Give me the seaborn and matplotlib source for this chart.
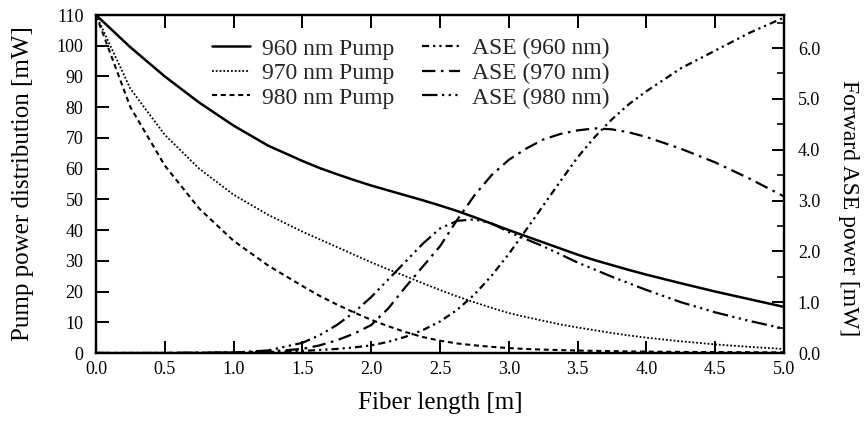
import matplotlib
matplotlib.use("Agg")
import matplotlib.pyplot as plt
import seaborn as sns
import numpy as np

# ---- data ----
fiber_length = [0.0, 0.25, 0.5, 0.75, 1.0, 1.25, 1.5, 1.625, 1.75, 1.875, 2.0,
                2.125, 2.25, 2.375, 2.5, 2.625, 2.75, 2.875, 3.0, 3.125, 3.25,
                3.375, 3.5, 3.625, 3.75, 3.875, 4.0, 4.25, 4.5, 4.75, 5.0]

pump_960 = [110, 99.5, 90, 81.5, 74, 67.5, 62.5, 60.2, 58.2, 56.3, 54.5,
            52.9, 51.3, 49.7, 48, 46.2, 44.2, 42.1, 40, 38, 36,
            34, 32, 30.2, 28.6, 27, 25.5, 22.7, 20, 17.5, 15]
pump_970 = [110, 86, 71, 60, 51.5, 45, 39.5, 37, 34.5, 32, 29.5,
            27.2, 25, 22.7, 20.5, 18.4, 16.5, 14.7, 13, 11.7, 10.5,
            9.3, 8.3, 7.4, 6.5, 5.7, 5, 3.8, 2.8, 2.0, 1.3]
pump_980 = [110, 80, 61, 47, 36.5, 28.5, 21.8, 18.6, 15.8, 13.2, 10.8,
            8.7, 6.8, 5.2, 4, 3.1, 2.5, 2.0, 1.6, 1.3, 1.1,
            0.95, 0.8, 0.7, 0.6, 0.52, 0.45, 0.35, 0.3, 0.25, 0.2]

ase_960 = [0, 0, 0, 0.005, 0.01, 0.02, 0.04, 0.06, 0.08, 0.11, 0.15,
           0.22, 0.32, 0.45, 0.62, 0.85, 1.15, 1.52, 1.95, 2.42, 2.9,
           3.38, 3.85, 4.25, 4.6, 4.9, 5.15, 5.6, 5.95, 6.3, 6.6]
ase_970 = [0, 0, 0, 0.005, 0.01, 0.03, 0.08, 0.15, 0.25, 0.38, 0.55,
           0.88, 1.3, 1.7, 2.1, 2.62, 3.1, 3.5, 3.8, 4.02, 4.2,
           4.31, 4.38, 4.42, 4.4, 4.34, 4.25, 4.02, 3.75, 3.43, 3.08]
ase_980 = [0, 0, 0, 0.005, 0.01, 0.05, 0.2, 0.35, 0.55, 0.8, 1.1,
           1.45, 1.8, 2.15, 2.45, 2.6, 2.63, 2.55, 2.38, 2.24, 2.1,
           1.94, 1.78, 1.64, 1.5, 1.37, 1.24, 1.0, 0.8, 0.63, 0.48]

pump_labels = ["960 nm Pump", "970 nm Pump", "980 nm Pump"]
ase_labels = ["ASE (960 nm)", "ASE (970 nm)", "ASE (980 nm)"]

x_ticks = [0.0, 0.5, 1.0, 1.5, 2.0, 2.5, 3.0, 3.5, 4.0, 4.5, 5.0]
left_ticks = list(range(0, 111, 10))
right_ticks = [0.0, 1.0, 2.0, 3.0, 4.0, 5.0, 6.0]

# ---- style ----
sns.set_theme(style="ticks")
plt.rcParams["font.family"] = ["Liberation Serif", "DejaVu Serif"]
plt.rcParams["axes.linewidth"] = 1.6

fig = plt.figure(figsize=(8.68, 4.23), dpi=100)
ax = fig.add_axes([96 / 868, (423 - 353) / 423, (784 - 96) / 868, (353 - 15) / 423])
ax2 = ax.twinx()

pump_styles = ["-", (0, (1.0, 1.1)), (0, (2.4, 1.8))]
pump_widths = [1.8, 1.3, 1.5]
ase_styles = [(0, (3.2, 1.8, 1, 1.8, 1, 1.8)),
              (0, (6, 2.5, 1.2, 2.5)),
              (0, (7, 2, 1, 2, 1, 2, 1, 2))]

handles = []
for y, lab, ls, lw in zip([pump_960, pump_970, pump_980], pump_labels, pump_styles, pump_widths):
    sns.lineplot(x=fiber_length, y=y, ax=ax, color="black", linestyle=ls,
                 linewidth=lw, label=lab, legend=False)
    handles.append(ax.lines[-1])
for y, lab, ls in zip([ase_960, ase_970, ase_980], ase_labels, ase_styles):
    sns.lineplot(x=fiber_length, y=y, ax=ax2, color="black", linestyle=ls,
                 linewidth=1.6, label=lab, legend=False)
    handles.append(ax2.lines[-1])

ax.set_xlim(0, 5.0)
ax.set_ylim(0, 110)
ax2.set_ylim(0, 6.65)

ax.set_xticks(x_ticks)
ax.set_xticklabels([f"{v:.1f}" for v in x_ticks])
ax.set_yticks(left_ticks)
ax.set_yticklabels([str(v) for v in left_ticks])
ax2.set_yticks(right_ticks)
ax2.set_yticklabels([f"{v:.1f}" for v in right_ticks])
ax2.set_yticks(np.arange(0.5, 6.6, 1.0), minor=True)

ax.tick_params(axis="x", direction="in", length=9, width=1.4, top=True,
               labelsize=13, pad=6, colors="black")
ax.tick_params(axis="y", direction="in", length=9, width=1.4, right=False,
               labelsize=13, pad=9, colors="black")
ax2.tick_params(axis="y", which="major", direction="in", length=9, width=1.4,
                labelsize=13, pad=10, colors="black")
ax2.tick_params(axis="y", which="minor", direction="in", length=5, width=1.4)

ax.set_xlabel("Fiber length [m]", fontsize=18, labelpad=10, color="black")
ax.set_ylabel("Pump power distribution [mW]", fontsize=18, labelpad=16, color="black")
ax2.set_ylabel("Forward ASE power [mW]", fontsize=17, rotation=270,
               labelpad=28, color="black")
ax2.yaxis.label.set_y(0.43)

for a in (ax, ax2):
    for s in a.spines.values():
        s.set_color("black")
        s.set_linewidth(1.6)

leg = ax2.legend(handles=handles, labels=pump_labels + ase_labels, ncol=2,
                 loc="upper left", bbox_to_anchor=(212 / 868, 1 - 38 / 423),
                 bbox_transform=fig.transFigure, frameon=False,
                 fontsize=17, handlelength=1.6, handletextpad=0.5,
                 columnspacing=1.2, labelspacing=0.13, borderpad=0,
                 borderaxespad=0)

fig.savefig("out.png", dpi=100, facecolor="white")
